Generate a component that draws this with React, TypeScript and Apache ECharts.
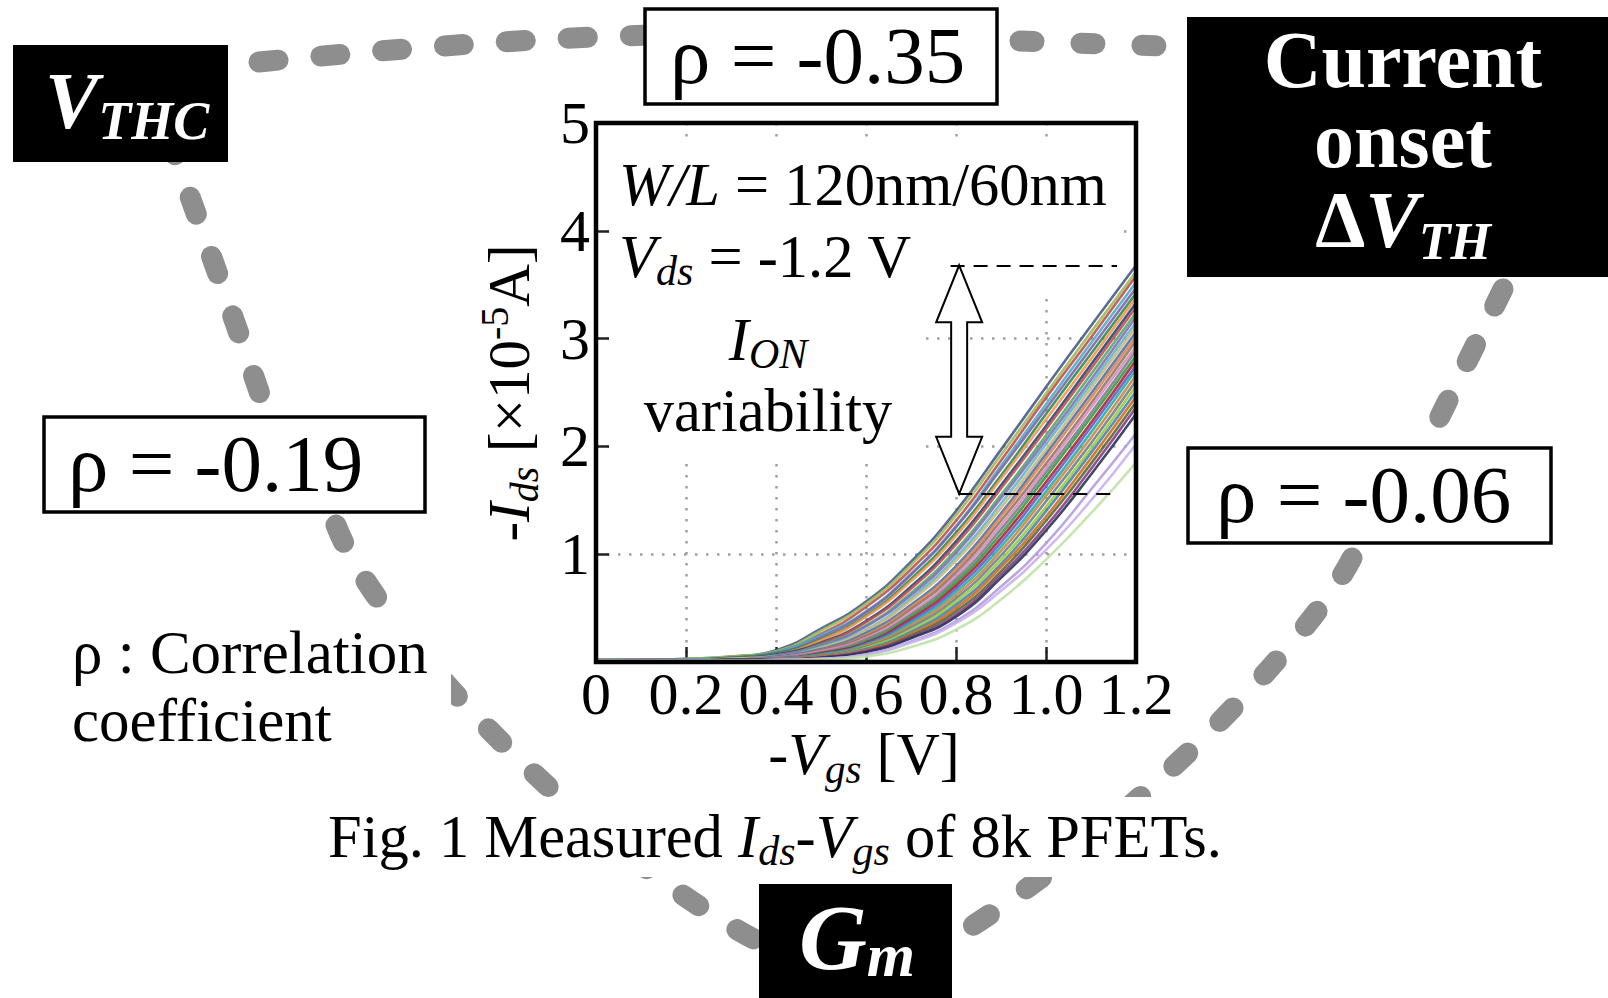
import React, { useEffect, useRef } from "react";
import * as echarts from "echarts";

// ---------- data ----------
const vgs = [0, 0.1, 0.2, 0.3, 0.4, 0.5, 0.6, 0.7, 0.8, 0.9, 1.0, 1.1, 1.2];

const curves: number[][] = [
  [0.02, 0.02, 0.03, 0.05, 0.11, 0.31, 0.56, 0.93, 1.4, 1.97, 2.55, 3.12, 3.68],
  [0.02, 0.02, 0.03, 0.05, 0.1, 0.29, 0.54, 0.9, 1.36, 1.92, 2.49, 3.06, 3.62],
  [0.02, 0.02, 0.02, 0.04, 0.09, 0.26, 0.51, 0.86, 1.31, 1.87, 2.45, 3.01, 3.58],
  [0.02, 0.02, 0.02, 0.04, 0.09, 0.25, 0.47, 0.82, 1.26, 1.82, 2.39, 2.96, 3.52],
  [0.01, 0.02, 0.02, 0.04, 0.08, 0.23, 0.46, 0.81, 1.25, 1.79, 2.35, 2.91, 3.47],
  [0.01, 0.01, 0.02, 0.04, 0.08, 0.21, 0.43, 0.77, 1.2, 1.73, 2.3, 2.86, 3.42],
  [0.01, 0.01, 0.02, 0.03, 0.07, 0.2, 0.42, 0.75, 1.17, 1.7, 2.25, 2.81, 3.38],
  [0.01, 0.01, 0.02, 0.03, 0.07, 0.18, 0.38, 0.7, 1.12, 1.64, 2.19, 2.76, 3.33],
  [0.01, 0.01, 0.02, 0.03, 0.06, 0.17, 0.37, 0.68, 1.09, 1.61, 2.16, 2.72, 3.29],
  [0.01, 0.01, 0.02, 0.03, 0.06, 0.16, 0.34, 0.64, 1.04, 1.55, 2.1, 2.67, 3.24],
  [0.01, 0.01, 0.02, 0.03, 0.06, 0.15, 0.33, 0.62, 1.01, 1.52, 2.06, 2.62, 3.2],
  [0.01, 0.01, 0.02, 0.03, 0.05, 0.14, 0.3, 0.59, 0.97, 1.47, 2.02, 2.58, 3.15],
  [0.01, 0.01, 0.01, 0.03, 0.05, 0.13, 0.29, 0.57, 0.94, 1.43, 1.97, 2.54, 3.11],
  [0.01, 0.01, 0.01, 0.02, 0.05, 0.12, 0.27, 0.53, 0.89, 1.38, 1.93, 2.49, 3.06],
  [0.01, 0.01, 0.01, 0.02, 0.04, 0.11, 0.25, 0.51, 0.86, 1.35, 1.89, 2.45, 3.02],
  [0.01, 0.01, 0.01, 0.02, 0.04, 0.11, 0.24, 0.49, 0.83, 1.31, 1.84, 2.4, 2.98],
  [0.01, 0.01, 0.01, 0.02, 0.04, 0.1, 0.22, 0.46, 0.8, 1.27, 1.8, 2.36, 2.93],
  [0.01, 0.01, 0.01, 0.02, 0.04, 0.09, 0.21, 0.44, 0.77, 1.23, 1.76, 2.31, 2.89],
  [0.01, 0.01, 0.01, 0.02, 0.03, 0.08, 0.19, 0.42, 0.74, 1.19, 1.72, 2.27, 2.84],
  [0.01, 0.01, 0.01, 0.02, 0.03, 0.08, 0.18, 0.4, 0.71, 1.15, 1.67, 2.22, 2.8],
  [0.01, 0.01, 0.01, 0.02, 0.03, 0.07, 0.17, 0.38, 0.68, 1.11, 1.63, 2.18, 2.75],
  [0.01, 0.01, 0.01, 0.02, 0.03, 0.07, 0.16, 0.36, 0.65, 1.07, 1.58, 2.13, 2.71],
  [0.01, 0.01, 0.01, 0.02, 0.03, 0.06, 0.15, 0.34, 0.62, 1.03, 1.54, 2.08, 2.66],
  [0.01, 0.01, 0.01, 0.02, 0.03, 0.06, 0.14, 0.32, 0.59, 0.99, 1.49, 2.03, 2.61],
  [0.01, 0.01, 0.01, 0.02, 0.02, 0.05, 0.13, 0.3, 0.56, 0.95, 1.44, 1.98, 2.56],
  [0.01, 0.01, 0.01, 0.02, 0.02, 0.05, 0.12, 0.28, 0.53, 0.91, 1.4, 1.94, 2.51],
  [0.01, 0.01, 0.01, 0.02, 0.02, 0.05, 0.11, 0.26, 0.5, 0.88, 1.35, 1.89, 2.46],
  [0.01, 0.01, 0.01, 0.02, 0.02, 0.04, 0.1, 0.245, 0.47, 0.84, 1.31, 1.84, 2.41],
  [0.01, 0.01, 0.01, 0.02, 0.02, 0.04, 0.1, 0.23, 0.44, 0.81, 1.26, 1.79, 2.36],
  [0.01, 0.01, 0.01, 0.02, 0.02, 0.04, 0.09, 0.22, 0.42, 0.78, 1.22, 1.74, 2.3],
  [0.01, 0.01, 0.01, 0.01, 0.02, 0.03, 0.07, 0.19, 0.38, 0.7, 1.1, 1.6, 2.12],
  [0.01, 0.01, 0.01, 0.01, 0.02, 0.03, 0.07, 0.18, 0.36, 0.66, 1.04, 1.5, 2.02],
  [0.01, 0.01, 0.01, 0.01, 0.01, 0.02, 0.05, 0.14, 0.3, 0.58, 0.95, 1.38, 1.85],
];

const curveColors = [
  "#4a5a8a", "#9bbb59", "#c0504d", "#4bacc6", "#8064a2", "#2e8b57", "#f79646",
  "#1f497d", "#c44e52", "#55a868", "#8172b2", "#64b5cd", "#ccb974", "#4c72b0",
  "#dd8452", "#937860", "#da8bc3", "#7f7f7f", "#2e9b4f", "#b22222", "#6a5acd",
  "#20b2aa", "#cd853f", "#708090", "#9acd32", "#4682b4", "#d2691e", "#556b2f",
  "#8b3a8b", "#2a3558", "#b49be0", "#c9b3f0", "#bfe3a5",
];

const xTicks = [0, 0.2, 0.4, 0.6, 0.8, 1.0, 1.2];
const yTicks = [0, 1, 2, 3, 4, 5];

// I_ON variability annotation (data units)
const ionTop = 3.68;
const ionBottom = 1.56;
const arrowX = 0.807;
const dashTopFrom = 0.788;
const dashBottomFrom = 0.805;
const dashTo = 1.158;

// ---------- layout ----------
const SERIF = '"Liberation Serif", "Times New Roman", Times, serif';
const GL = 596, GT = 123, GW = 540, GH = 539;
const XMAX = 1.2, YMAX = 5;
const px = (v: number) => GL + (v / XMAX) * GW;
const py = (v: number) => GT + GH - (v / YMAX) * GH;

function rich(F: number, S: number, color: string, bold: boolean, drop: number, lf = 1.15, rise = 0.36 * F) {
  const L = Math.round(F * lf);
  const fw = bold ? "bold" : "normal";
  const base: any = { fontFamily: SERIF, fontSize: F, fill: color, fontWeight: fw, lineHeight: L, height: F, verticalAlign: "middle" };
  const subOff = 0.34 * (F - S) + drop;
  const supOff = rise - 0.34 * (F - S);
  return {
    n: { ...base, fontStyle: "normal" },
    i: { ...base, fontStyle: "italic" },
    b: { ...base, fontStyle: "normal", fontWeight: "bold" },
    sub: { ...base, fontSize: S, fontStyle: "italic", height: L - 2 * subOff, verticalAlign: "bottom" },
    sup: { ...base, fontSize: S, fontStyle: "normal", height: L - 2 * supOff, verticalAlign: "top" },
  };
}

function rtext(x: number, y: number, text: string, r: any, align: string, z: number, extra: any = {}) {
  return { type: "text", x, y, z, ...extra, style: { text, rich: r, align, verticalAlign: "middle" } };
}
function ptext(x: number, y: number, text: string, F: number, color: string, align: string, z: number, bold = false) {
  return {
    type: "text", x, y, z,
    style: { text, fontFamily: SERIF, fontSize: F, fontWeight: bold ? "bold" : "normal", fill: color, align, verticalAlign: "middle" },
  };
}

const GRAY = "#8e8e8e";
function connector(shape: any, dash: number[], kind = "bezierCurve") {
  return { type: kind, z: 5, shape, style: { stroke: GRAY, lineWidth: 21, lineDash: dash, lineCap: "round", fill: "none" } };
}

export default function App() {
  const ref = useRef<HTMLDivElement>(null);
  useEffect(() => {
    const chart = echarts.init(ref.current!, undefined, { renderer: "svg" });

    const series: any[] = curves.map((c, k) => ({
      type: "line",
      name: "c" + k,
      data: vgs.map((v, j) => [v, c[j]]),
      showSymbol: false,
      smooth: 0.5,
      lineStyle: { color: curveColors[k % curveColors.length], width: 2.6, opacity: 0.9 },
      z: 2,
    }));
    series.push({
      type: "line",
      data: [],
      z: 6,
      markLine: {
        silent: true,
        symbol: "none",
        label: { show: false },
        lineStyle: { color: "#000", width: 2, type: [14, 9] },
        data: [
          [{ coord: [dashTopFrom, ionTop] }, { coord: [dashTo, ionTop] }],
          [{ coord: [dashBottomFrom, ionBottom] }, { coord: [dashTo, ionBottom] }],
        ],
      },
    });

    const ax = px(arrowX), yT = py(ionTop), yB = py(ionBottom);
    const hw = 23, sw = 8, hl = 57;
    const arrowPts = [
      [ax, yT], [ax + hw, yT + hl], [ax + sw, yT + hl], [ax + sw, yB - hl], [ax + hw, yB - hl],
      [ax, yB], [ax - hw, yB - hl], [ax - sw, yB - hl], [ax - sw, yT + hl], [ax - hw, yT + hl],
    ];

    const graphic: any[] = [
      // white masks over the grid behind the in-plot texts
      { type: "rect", z: 1, shape: { x: 609, y: 144, width: 507, height: 150 }, style: { fill: "#fff" } },
      { type: "rect", z: 1, shape: { x: 609, y: 298, width: 313, height: 158 }, style: { fill: "#fff" } },
      // plot frame
      { type: "rect", z: 3, shape: { x: GL, y: GT, width: GW, height: GH }, style: { fill: "none", stroke: "#000", lineWidth: 4.5 } },
      // double arrow
      { type: "polygon", z: 10, shape: { points: arrowPts }, style: { fill: "#fff", stroke: "#000", lineWidth: 2 } },
      // connectors
      connector({ x1: 259, y1: 62, cpx1: 400, cpy1: 48, cpx2: 540, cpy2: 38, x2: 652, y2: 35 }, [19, 43]),
      connector({ x1: 1020, y1: 41, x2: 1190, y2: 47 }, [14, 47], "line"),
      connector({ x1: 169, y1: 138, cpx1: 200, cpy1: 225, cpx2: 235, cpy2: 320, x2: 266, y2: 412 }, [18, 45]),
      connector({ x1: 336, y1: 525, cpx1: 380, cpy1: 640, cpx2: 610, cpy2: 870, x2: 775, y2: 950 }, [19, 45]),
      connector({ x1: 1503, y1: 289, x2: 1425, y2: 447 }, [19, 43], "line"),
      connector({ x1: 1352, y1: 558, cpx1: 1310, cpy1: 640, cpx2: 1130, cpy2: 830, x2: 950, y2: 940 }, [19, 45]),
      // white backgrounds of free texts (hide connectors)
      { type: "rect", z: 6, shape: { x: 60, y: 615, width: 391, height: 150 }, style: { fill: "#fff" } },
      { type: "rect", z: 6, shape: { x: 322, y: 797, width: 903, height: 80 }, style: { fill: "#fff" } },
      // boxes
      { type: "rect", z: 8, shape: { x: 13, y: 45, width: 215, height: 117 }, style: { fill: "#000" } },
      { type: "rect", z: 8, shape: { x: 1187, y: 17, width: 430, height: 260 }, style: { fill: "#000" } },
      { type: "rect", z: 8, shape: { x: 759, y: 884, width: 193, height: 130 }, style: { fill: "#000" } },
      { type: "rect", z: 8, shape: { x: 645, y: 9, width: 352, height: 95 }, style: { fill: "#fff", stroke: "#000", lineWidth: 3.5 } },
      { type: "rect", z: 8, shape: { x: 44, y: 417, width: 381, height: 95 }, style: { fill: "#fff", stroke: "#000", lineWidth: 3.5 } },
      { type: "rect", z: 8, shape: { x: 1188, y: 448, width: 363, height: 95 }, style: { fill: "#fff", stroke: "#000", lineWidth: 3.5 } },
      // box texts
      rtext(45, 101, "{i|V}{sub|THC}", rich(80, 54, "#fff", true, 11), "left", 9),
      ptext(670, 56, "ρ = -0.35", 81, "#000", "left", 9),
      ptext(68, 464, "ρ = -0.19", 81, "#000", "left", 9),
      ptext(1216, 495, "ρ = -0.06", 81, "#000", "left", 9),
      rtext(1403, 139.5, "{b|Current}\n{b|onset}\n{b|Δ}{i|V}{sub|TH}", rich(80, 52, "#fff", true, 12, 1.0), "center", 9),
      rtext(857, 937, "{i|G}{sub|m}", rich(94, 62, "#fff", true, 7), "center", 9),
      // free texts
      rtext(72, 686, "{n|ρ : Correlation}\n{n|coefficient}", rich(61, 42, "#000", false, 9, 1.12), "left", 7),
      rtext(328, 836, "{n|Fig. 1 Measured }{i|I}{sub|ds}{n|-}{i|V}{sub|gs}{n| of 8k PFETs.}", rich(60.5, 42, "#000", false, 9), "left", 7),
      // axis titles
      rtext(864, 754, "{i|-V}{sub|gs}{n| [V]}", rich(60, 41, "#000", false, 9, 1.0), "center", 7),
      rtext(509, 393, "{i|-I}{sub|ds}{n| [×10}{sup|-5}{n|A]}", rich(59, 40, "#000", false, 9), "center", 7, { rotation: Math.PI / 2 }),
      // in-plot texts
      rtext(619, 184, "{i|W/L}{n| = 120nm/60nm}", rich(60.5, 42, "#000", false, 9), "left", 7),
      rtext(619, 256, "{i|V}{sub|ds}{n| = -1.2 V}", rich(60.5, 42, "#000", false, 9), "left", 7),
      rtext(768, 339, "{i|I}{sub|ON}", rich(60.5, 42, "#000", false, 9), "center", 7),
      ptext(768, 410, "variability", 60.5, "#000", "center", 7),
    ];

    chart.setOption({
      animation: false,
      backgroundColor: "#fff",
      grid: {
        left: GL, top: GT, width: GW, height: GH, containLabel: false,
        show: true, borderWidth: 0, backgroundColor: "#fff",
      },
      xAxis: {
        type: "value", min: xTicks[0], max: xTicks[xTicks.length - 1], interval: 0.2,
        axisLine: { show: false },
        axisTick: { show: true, inside: true, length: 15, lineStyle: { color: "#222", width: 2.5 } },
        splitLine: { show: true, showMinLine: false, showMaxLine: false, lineStyle: { color: "#a0a0a0", width: 2.5, type: [2.5, 8.5] } },
        axisLabel: {
          show: true, margin: 2, color: "#000", fontFamily: SERIF, fontSize: 60,
          showMinLabel: true, showMaxLabel: true,
          formatter: (v: number) => (v === 0 ? "0" : v.toFixed(1)),
        },
      },
      yAxis: {
        type: "value", min: yTicks[0], max: yTicks[yTicks.length - 1], interval: 1,
        axisLine: { show: false },
        axisTick: { show: true, inside: true, length: 13, lineStyle: { color: "#222", width: 2.5 } },
        splitLine: { show: true, showMinLine: false, showMaxLine: false, lineStyle: { color: "#a0a0a0", width: 2.5, type: [2.5, 8.5] } },
        axisLabel: {
          show: true, margin: 6, color: "#000", fontFamily: SERIF, fontSize: 60,
          showMinLabel: true, showMaxLabel: true,
          formatter: (v: number) => (v === 0 ? "" : String(v)),
        },
      },
      series,
      graphic,
    });
    return () => chart.dispose();
  }, []);

  return (
    <div
      ref={ref}
      style={{ position: "absolute", left: 0, top: 0, width: 1608, height: 998, background: "#fff" }}
    />
  );
}
